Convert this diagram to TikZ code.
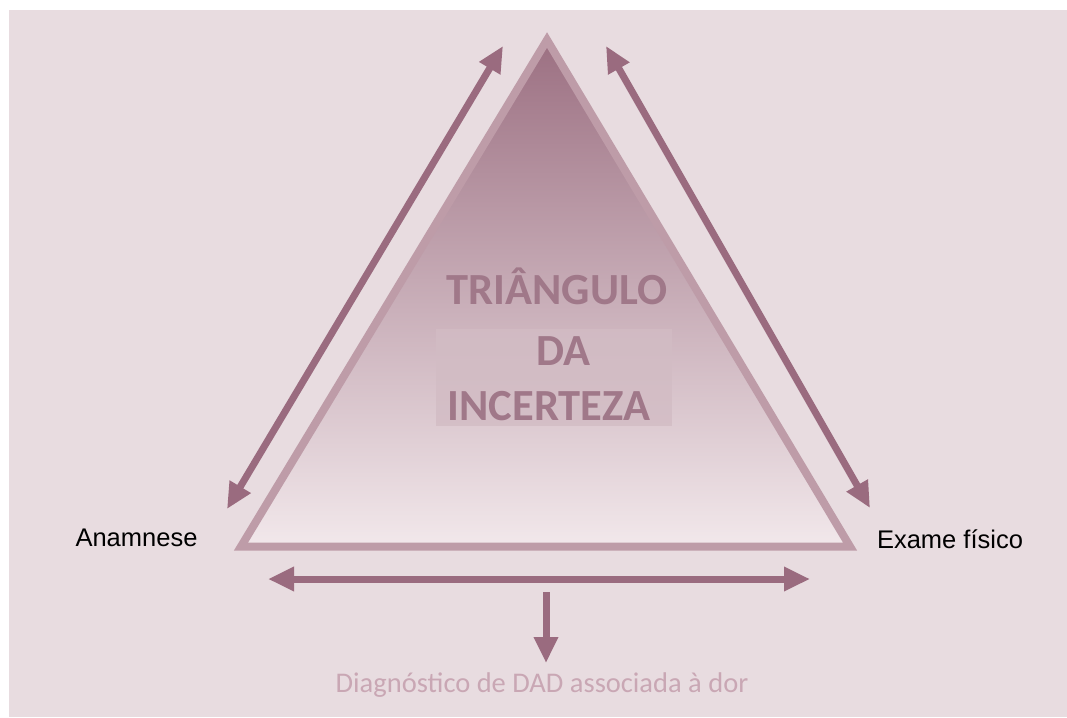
\documentclass[tikz,border=0pt]{standalone}
\usepackage{fontspec}
\setmainfont{Carlito}
\newfontfamily\arialf{Liberation Sans}
\usetikzlibrary{arrows.meta}
\definecolor{bg}{HTML}{E8DCE0}
\definecolor{rim}{HTML}{BE9CA8}
\definecolor{topc}{HTML}{9C7082}
\definecolor{botc}{HTML}{F2E8EB}
\definecolor{arr}{HTML}{9A6B7F}
\definecolor{titlec}{HTML}{A07889}
\definecolor{boxc}{HTML}{D2BCC4}
\definecolor{diagc}{HTML}{C9A7B4}
\tikzset{
  conn/.style={draw=arr, line width=7pt, -{Triangle[length=26pt,width=23pt]}},
  dconn/.style={draw=arr, line width=7pt, {Triangle[length=26pt,width=23pt]}-{Triangle[length=26pt,width=23pt]}},
  lab/.style={font=\arialf\fontsize{25.5}{30}\selectfont, text=black, inner sep=0pt},
  ttl/.style={font=\bfseries\fontsize{44.5}{52}\selectfont, text=titlec},
}
\begin{document}
\begin{tikzpicture}[x=1pt,y=-1pt]
\useasboundingbox (0,0) rectangle (1067,717);
\fill[white] (0,0) rectangle (1067,717);
\fill[bg] (9,10) rectangle (1067,717);
% triangle
\coordinate (A) at (547,40);
\coordinate (L) at (241,546.5);
\coordinate (R) at (850,546.5);
\shade[top color=topc, bottom color=botc] (A) -- (L) -- (R) -- cycle;
\draw[rim, line width=8pt, line join=miter] (A) -- (L) -- (R) -- cycle;
% text box
\fill[boxc, opacity=0.8] (436,329) rectangle (672,426);
\node[ttl] (t1) at (557,286) {TRIÂNGULO};
\node[ttl] (t2) at (563,351) {DA};
\node[ttl] (t3) at (549,406) {INCERTEZA};
% arrows
\coordinate (la) at (227,509);
\coordinate (lb) at (503,46);
\coordinate (ra) at (606,46);
\coordinate (rb) at (870,508);
\coordinate (ba) at (268,579);
\coordinate (bb) at (810,579);
\coordinate (da) at (546,592);
\coordinate (db) at (546,663);
\draw[dconn] (la) -- (lb);
\draw[dconn] (ra) -- (rb);
\draw[dconn] (ba) -- (bb);
\draw[conn] (da) -- (db);
% labels
\node[lab, anchor=base] (an) at (136.5,546) {Anamnese};
\node[lab, anchor=base] (ex) at (950,548) {Exame físico};
\node[font=\fontsize{28.5}{33}\selectfont, text=diagc, anchor=base, inner sep=0pt] (dg) at (542,692) {Diagnóstico de DAD associada à dor};
\end{tikzpicture}
\end{document}
